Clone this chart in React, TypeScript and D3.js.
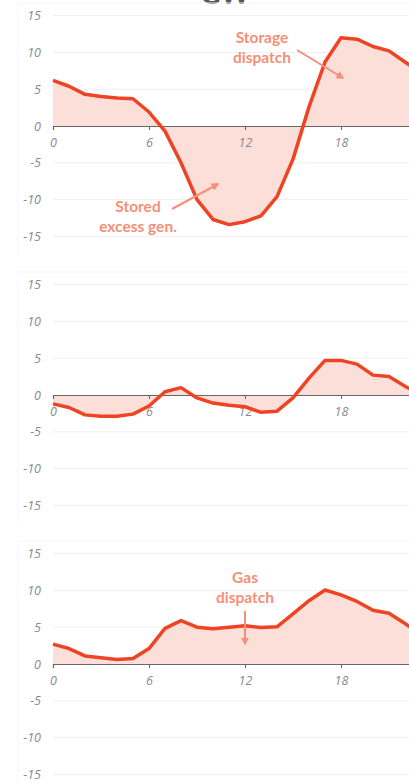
import React, { useRef, useEffect } from 'react';
import * as d3 from 'd3';

const hours = d3.range(0, 24);
const storage = [6.2, 5.4, 4.3, 4.0, 3.8, 3.7, 1.9, -0.7, -5.0, -10.0, -12.7, -13.4, -13.0, -12.2, -9.6, -4.5, 2.6, 8.7, 12.0, 11.8, 10.8, 10.2, 8.7, 7.2];
const residual = [-1.2, -1.7, -2.7, -2.9, -2.9, -2.6, -1.5, 0.45, 1.0, -0.4, -1.1, -1.4, -1.6, -2.35, -2.2, -0.4, 2.3, 4.7, 4.7, 4.2, 2.7, 2.5, 1.2, 0.0];
const gas = [2.7, 2.1, 1.1, 0.85, 0.6, 0.75, 2.1, 4.85, 5.9, 5.0, 4.8, 5.0, 5.2, 4.95, 5.05, 6.8, 8.6, 10.05, 9.4, 8.5, 7.3, 6.9, 5.5, 4.0];
const yTicks = [15, 10, 5, 0, -5, -10, -15];
const xTicks = [0, 6, 12, 18];
const series = [storage, residual, gas];

const App = () => {
  const svgRef = useRef(null);

  useEffect(() => {
    document.body.style.margin = '0';
    const width = 409;
    const height = 783;
    const lineColor = '#ee4424';
    const fillColor = '#fbdfd8';
    const noteColor = '#f48f78';
    const font = 'Lato, "Open Sans", sans-serif';
    const tickFont = '"Open Sans", sans-serif';

    const svg = d3.select(svgRef.current);
    svg.selectAll('*').remove();
    svg.attr('width', width).attr('height', height);

    svg.append('defs').append('marker')
      .attr('id', 'arrow')
      .attr('viewBox', '0 0 10 10')
      .attr('refX', 8).attr('refY', 5)
      .attr('markerWidth', 4).attr('markerHeight', 4)
      .attr('orient', 'auto')
      .append('path')
      .attr('d', 'M0,0L10,5L0,10z')
      .attr('fill', noteColor);

    // title, mostly cut off at the top like the original
    svg.append('text')
      .attr('x', 225).attr('y', 4)
      .attr('text-anchor', 'middle')
      .attr('font-family', font).attr('font-weight', 700)
      .attr('font-size', 28).attr('fill', '#555')
      .text('GW');

    const x = d3.scaleLinear().domain([0, 24]).range([53, 437]);

    series.forEach((values, i) => {
      const zero = 126 + i * 269;
      const y = d3.scaleLinear().domain([-15, 15]).range([zero + 110.4, zero - 110.4]);
      const g = svg.append('g');

      // very faint panel frame
      g.append('line')
        .attr('x1', 18).attr('x2', width)
        .attr('y1', zero - 123).attr('y2', zero - 123)
        .attr('stroke', '#f5f5f5');
      g.append('line')
        .attr('x1', 18).attr('x2', 18)
        .attr('y1', zero - 123).attr('y2', zero + 130)
        .attr('stroke', '#f7f7f7');

      g.selectAll('.grid')
        .data(yTicks.filter(d => d !== 0))
        .enter()
        .append('line')
        .attr('x1', x(0)).attr('x2', width)
        .attr('y1', d => y(d)).attr('y2', d => y(d))
        .attr('stroke', '#efefef');

      g.selectAll('.ylab')
        .data(yTicks)
        .enter()
        .append('text')
        .attr('x', 41).attr('y', d => y(d) + 4.5)
        .attr('text-anchor', 'end')
        .attr('font-family', tickFont).attr('font-style', 'italic')
        .attr('font-size', 12.5).attr('fill', '#8a8a8a')
        .text(d => d);

      const area = d3.area()
        .x((d, j) => x(hours[j]))
        .y0(y(0))
        .y1(d => y(d));
      g.append('path')
        .datum(values)
        .attr('d', area)
        .attr('fill', fillColor);

      const xAxis = d3.axisBottom(x).tickValues(xTicks).tickSize(4).tickPadding(8).tickFormat(d3.format('d'));
      const ax = g.append('g')
        .attr('transform', `translate(0, ${y(0)})`)
        .call(xAxis);
      ax.select('.domain').attr('stroke', '#666').attr('stroke-width', 1.2);
      ax.selectAll('.tick line').attr('stroke', '#666');
      ax.selectAll('text')
        .attr('font-family', tickFont).attr('font-style', 'italic')
        .attr('font-size', 12.5).attr('fill', '#8a8a8a');

      const line = d3.line()
        .x((d, j) => x(hours[j]))
        .y(d => y(d));
      g.append('path')
        .datum(values)
        .attr('d', line)
        .attr('fill', 'none')
        .attr('stroke', lineColor)
        .attr('stroke-width', 3.5)
        .attr('stroke-linejoin', 'round');
    });

    const notes = [
      { lines: ['Storage', 'dispatch'], cx: 262, cy: 43, arrow: [297, 50, 343, 78] },
      { lines: ['Stored', 'excess gen.'], cx: 138, cy: 212, arrow: [172, 209, 218, 184] },
      { lines: ['Gas', 'dispatch'], cx: 245, cy: 583, arrow: [245, 611, 245, 644] },
    ];
    notes.forEach(n => {
      const t = svg.append('text')
        .attr('text-anchor', 'middle')
        .attr('font-family', font).attr('font-weight', 700)
        .attr('font-size', 15.5).attr('fill', noteColor);
      n.lines.forEach((s, k) => {
        t.append('tspan').attr('x', n.cx).attr('y', n.cy + k * 19.5).text(s);
      });
      svg.append('line')
        .attr('x1', n.arrow[0]).attr('y1', n.arrow[1])
        .attr('x2', n.arrow[2]).attr('y2', n.arrow[3])
        .attr('stroke', noteColor).attr('stroke-width', 2)
        .attr('marker-end', 'url(#arrow)');
    });
  }, []);

  return (
    <div>
      <svg ref={svgRef} style={{ display: 'block' }}></svg>
    </div>
  );
};

export default App;
